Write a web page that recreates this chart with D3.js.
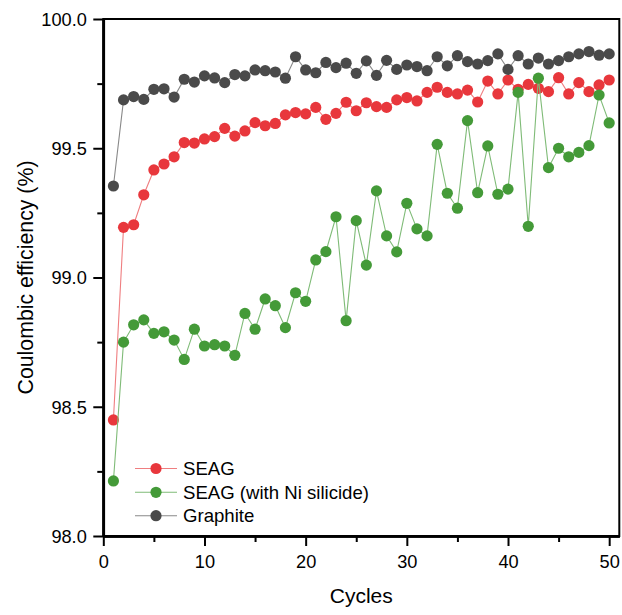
<!DOCTYPE html>
<html><head><meta charset="utf-8">
<script src="https://cdn.jsdelivr.net/npm/d3@7"></script>
<style>html,body{margin:0;padding:0;background:#fff;}svg{display:block;font-family:"Liberation Sans",Arial,sans-serif;}</style>
</head><body>
<svg id="c" width="622" height="615"></svg>
<script>
const cycles = [1,2,3,4,5,6,7,8,9,10,11,12,13,14,15,16,17,18,19,20,21,22,23,24,25,26,27,28,29,30,31,32,33,34,35,36,37,38,39,40,41,42,43,44,45,46,47,48,49,50];
const seag = [98.449,99.194,99.204,99.320,99.416,99.439,99.467,99.522,99.520,99.536,
  99.545,99.577,99.547,99.567,99.599,99.587,99.596,99.629,99.638,99.633,
  99.658,99.612,99.635,99.678,99.645,99.676,99.661,99.658,99.687,99.696,
  99.683,99.716,99.736,99.716,99.710,99.725,99.679,99.760,99.710,99.764,
  99.728,99.747,99.732,99.719,99.773,99.710,99.754,99.719,99.745,99.764];
const seagNi = [98.213,98.750,98.817,98.836,98.784,98.790,98.758,98.683,98.800,98.735,
  98.740,98.735,98.699,98.861,98.800,98.917,98.891,98.806,98.941,98.908,
  99.068,99.100,99.235,98.833,99.220,99.048,99.335,99.161,99.099,99.287,
  99.188,99.161,99.515,99.326,99.268,99.607,99.328,99.509,99.322,99.342,
  99.716,99.198,99.771,99.425,99.500,99.467,99.484,99.510,99.706,99.598];
const graphite = [99.354,99.687,99.700,99.689,99.728,99.730,99.698,99.767,99.756,99.780,
  99.772,99.754,99.785,99.780,99.803,99.800,99.795,99.771,99.854,99.803,
  99.792,99.832,99.812,99.829,99.790,99.838,99.782,99.840,99.805,99.822,
  99.816,99.800,99.854,99.819,99.858,99.835,99.826,99.839,99.865,99.805,
  99.858,99.826,99.849,99.826,99.839,99.854,99.865,99.874,99.860,99.865];
const seriesNames = ["SEAG","SEAG (with Ni silicide)","Graphite"];
const xTicks = [0,10,20,30,40,50];
const yTicks = [98.0,98.5,99.0,99.5,100.0];

const series = [
  {name: seriesNames[0], values: seag, color: "#e8373c", line: "#ef7e80"},
  {name: seriesNames[1], values: seagNi, color: "#449a38", line: "#7fbb77"},
  {name: seriesNames[2], values: graphite, color: "#4a4a4a", line: "#888888"}
];

const svg = d3.select("#c");
const L = 103.3, R = 619.3, T = 19, B = 536;
const x = d3.scaleLinear().domain([0, 51]).range([L, R]);
const y = d3.scaleLinear().domain([98, 100]).range([B, T]);

svg.append("rect").attr("x", L).attr("y", T).attr("width", R - L).attr("height", B - T)
  .attr("fill", "none").attr("stroke", "#000").attr("stroke-width", 2);

const lineGen = d3.line().x((d, i) => x(cycles[i])).y(d => y(d));
series.forEach(s => {
  const g = svg.append("g");
  g.append("path").datum(s.values).attr("d", lineGen)
    .attr("fill", "none").attr("stroke", s.line).attr("stroke-width", 1.1);
  g.selectAll("circle").data(s.values).enter().append("circle")
    .attr("cx", (d, i) => x(cycles[i])).attr("cy", d => y(d)).attr("r", 5.6)
    .attr("fill", s.color);
});

const xAxis = svg.append("g").attr("transform", `translate(0,${B})`)
  .call(d3.axisBottom(x).tickValues(xTicks).tickFormat(d3.format("d")).tickSize(10).tickSizeOuter(0));
const xMinor = svg.append("g").attr("transform", `translate(0,${B})`)
  .call(d3.axisBottom(x).tickValues([5,15,25,35,45]).tickFormat("").tickSize(6).tickSizeOuter(0));
const yAxis = svg.append("g").attr("transform", `translate(${L},0)`)
  .call(d3.axisLeft(y).tickValues(yTicks).tickFormat(d3.format(".1f")).tickSize(10).tickSizeOuter(0));
const yMinor = svg.append("g").attr("transform", `translate(${L},0)`)
  .call(d3.axisLeft(y).tickValues([98.25,98.75,99.25,99.75]).tickFormat("").tickSize(6).tickSizeOuter(0));
[xAxis, xMinor, yAxis, yMinor].forEach(a => {
  a.select(".domain").attr("stroke", "#000").attr("stroke-width", 2.5);
  a.selectAll(".tick line").attr("stroke", "#000").attr("stroke-width", 2);
  a.selectAll(".tick text").attr("fill", "#000").attr("font-size", 18.2)
    .attr("font-family", "'Liberation Sans', Arial, sans-serif");
});
xAxis.selectAll(".tick text").attr("dy", null).attr("y", 32);
yAxis.selectAll(".tick text").attr("x", -16.5).attr("dy", "0.35em");

svg.append("text").attr("x", (L + R) / 2).attr("y", 602.5).attr("text-anchor", "middle")
  .attr("font-size", 21).attr("fill", "#000").text("Cycles");
svg.append("text").attr("transform", `translate(33,${(T + B) / 2}) rotate(-90)`)
  .attr("text-anchor", "middle").attr("font-size", 21.3).attr("fill", "#000")
  .text("Coulombic efficiency (%)");

const legY = [468.5, 492.3, 515.7];
series.forEach((s, i) => {
  const g = svg.append("g").attr("transform", `translate(0,${legY[i]})`);
  g.append("line").attr("x1", 135).attr("x2", 177).attr("stroke", s.line).attr("stroke-width", 1.1);
  g.append("circle").attr("cx", 156).attr("r", 5.6).attr("fill", s.color);
  g.append("text").attr("x", 183).attr("y", 6.6).attr("font-size", 18.6).attr("fill", "#000").text(s.name);
});
</script>
</body></html>
